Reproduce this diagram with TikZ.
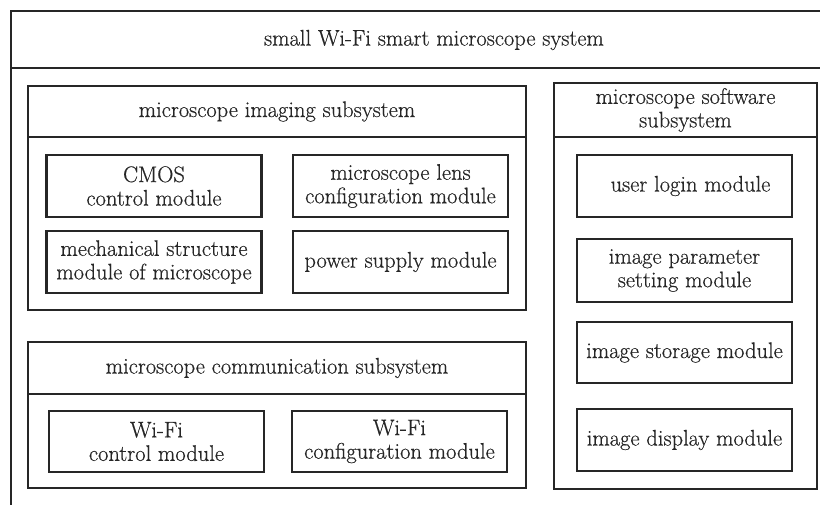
\documentclass[tikz,border=0pt]{standalone}
\usepackage{fontspec}
\usetikzlibrary{positioning}
\newfontfamily\diagfont[FakeBold=0.5]{Latin Modern Roman}
\definecolor{ink}{HTML}{262626}
\begin{document}
\begin{tikzpicture}[x=1pt, y=-1pt, color=ink, line width=2.8pt,
  txt/.style={align=center, inner sep=0pt, font=\diagfont\fontsize{22.5}{23.5}\selectfont},
  module/.style={txt, draw, rectangle, minimum width=215pt, minimum height=62pt},
  header/.style={txt, draw, rectangle, outer sep=0pt},
  body/.style={draw, rectangle, inner sep=0pt, outer sep=0pt}]
\useasboundingbox (0,0) rectangle (820,505);
% Frame
\draw (820,11) -| (11,505);
\draw (11,68) -- (820,68);
\node[txt] (system) at (434,40) {small Wi-Fi smart microscope system};

% Imaging subsystem
\node[header, minimum width=498pt, minimum height=51pt] (imaginghead) at (277,111.5) {microscope imaging subsystem};
\node[body, minimum width=498pt, minimum height=173pt, below=0pt of imaginghead] (imaging) {};
\node[module] (cmos) at (154,186) {CMOS\\control module};
\node[module] (lens) at (400.5,186) {microscope lens\\configuration module};
\node[module] (mech) at (154,262) {mechanical structure\\module of microscope};
\node[module] (power) at (400.5,262) {power supply module};

% Communication subsystem
\node[header, minimum width=498pt, minimum height=52pt] (commhead) at (277,368) {microscope communication subsystem};
\node[body, minimum width=498pt, minimum height=94pt, below=0pt of commhead] (comm) {};
\node[module, minimum height=61pt] (wifictrl) at (156.5,441.5) {Wi-Fi\\control module};
\node[module, minimum height=61pt] (wificonf) at (399.5,441.5) {Wi-Fi\\configuration module};

% Software subsystem
\node[header, minimum width=263pt, minimum height=54pt] (softhead) at (685.5,110) {microscope software\\subsystem};
\node[body, minimum width=263pt, minimum height=352pt, below=0pt of softhead] (soft) {};
\node[module] (login) at (684.5,186) {\hspace*{12pt}user login module};
\node[module, minimum height=63pt] (param) at (684.5,270.5) {image parameter\\setting module};
\node[module, minimum height=61pt] (storage) at (684.5,352.5) {image storage module};
\node[module] (display) at (684.5,440) {image display module};
\end{tikzpicture}
\end{document}
